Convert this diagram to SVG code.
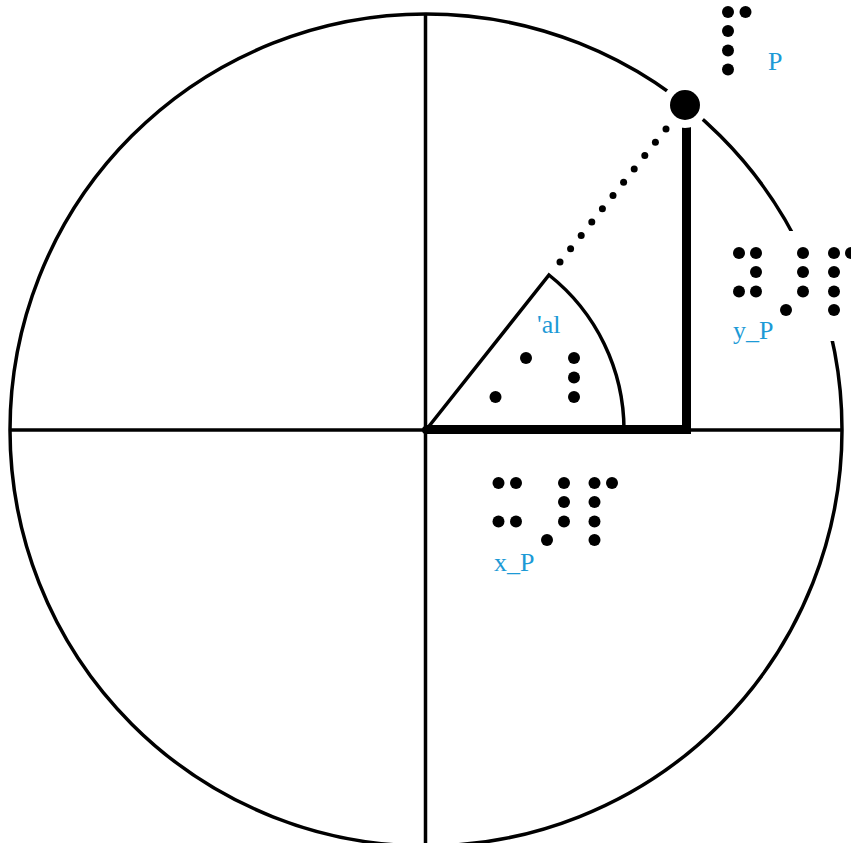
<svg xmlns="http://www.w3.org/2000/svg" width="851" height="843" viewBox="0 0 851 843">
<style>
.thin{fill:none;stroke:#000;stroke-width:3.5}
.thick{fill:none;stroke:#000;stroke-width:9}
.bd{fill:#000}
.lbl{font-family:"Liberation Serif",serif;font-size:26px;fill:#1c9ad6}
</style>
<rect width="851" height="843" fill="#fff"/>
<g id="circle"><circle class="thin" cx="426" cy="430" r="416"/></g>
<g id="axes">
<line class="thin" x1="10" y1="430" x2="842" y2="430"/>
<line class="thin" x1="425.5" y1="14" x2="425.5" y2="843"/>
</g>
<g id="angle"><path class="thin" d="M426,430 L549,275 A198,198 0 0,1 624,430" stroke-linejoin="miter"/></g>
<g id="connectors">
<line class="thick" x1="426" y1="429.5" x2="691" y2="429.5"/>
<line class="thick" x1="686.5" y1="110" x2="686.5" y2="434"/>
<g class="bd">
<circle cx="560" cy="262" r="3.5"/><circle cx="570.6" cy="248.7" r="3.5"/><circle cx="581.2" cy="235.4" r="3.5"/><circle cx="591.8" cy="222.1" r="3.5"/><circle cx="602.4" cy="208.8" r="3.5"/><circle cx="613" cy="195.5" r="3.5"/><circle cx="623.6" cy="182.2" r="3.5"/><circle cx="634.2" cy="168.9" r="3.5"/><circle cx="644.8" cy="155.6" r="3.5"/><circle cx="655.4" cy="142.3" r="3.5"/><circle cx="666" cy="129" r="3.5"/>
</g>
<circle cx="426" cy="430" r="4" class="bd"/>
</g>
<g id="P">
<circle cx="685" cy="105" r="23" fill="#fff"/>
<circle cx="685" cy="105" r="15" class="bd"/>
<g class="bd"><circle cx="728" cy="12" r="6"/><circle cx="745.5" cy="12" r="6"/><circle cx="728" cy="31" r="6"/><circle cx="728" cy="50.5" r="6"/><circle cx="728" cy="69.5" r="6"/></g>
<text class="lbl" x="768" y="70">P</text>
</g>
<g id="yP">
<rect x="728" y="231" width="123" height="110" fill="#fff"/>
<g class="bd">
<circle cx="739" cy="253" r="6"/><circle cx="756" cy="253" r="6"/><circle cx="756" cy="272" r="6"/><circle cx="739" cy="291.5" r="6"/><circle cx="756" cy="291.5" r="6"/>
<circle cx="786" cy="310" r="6"/><circle cx="803" cy="253" r="6"/><circle cx="803" cy="272" r="6"/><circle cx="803" cy="291.5" r="6"/>
<circle cx="834" cy="253" r="6"/><circle cx="851" cy="253" r="6"/><circle cx="834" cy="272" r="6"/><circle cx="834" cy="291.5" r="6"/><circle cx="834" cy="310" r="6"/>
</g>
<text class="lbl" x="733" y="339">y_P</text>
</g>
<g id="xP">
<g class="bd">
<circle cx="498.5" cy="483" r="6"/><circle cx="516" cy="483" r="6"/><circle cx="498.5" cy="521.5" r="6"/><circle cx="516" cy="521.5" r="6"/>
<circle cx="547" cy="540" r="6"/><circle cx="564" cy="483" r="6"/><circle cx="564" cy="502" r="6"/><circle cx="564" cy="521.5" r="6"/>
<circle cx="594.5" cy="483" r="6"/><circle cx="612" cy="483" r="6"/><circle cx="594.5" cy="502" r="6"/><circle cx="594.5" cy="521.5" r="6"/><circle cx="594.5" cy="540" r="6"/>
</g>
<text class="lbl" x="494" y="571">x_P</text>
</g>
<g id="alpha">
<g class="bd"><circle cx="526" cy="358" r="6"/><circle cx="574" cy="358" r="6"/><circle cx="574" cy="377.5" r="6"/><circle cx="574" cy="397" r="6"/><circle cx="495.5" cy="397" r="6"/></g>
<text class="lbl" x="537" y="333">'al</text>
</g>
</svg>
